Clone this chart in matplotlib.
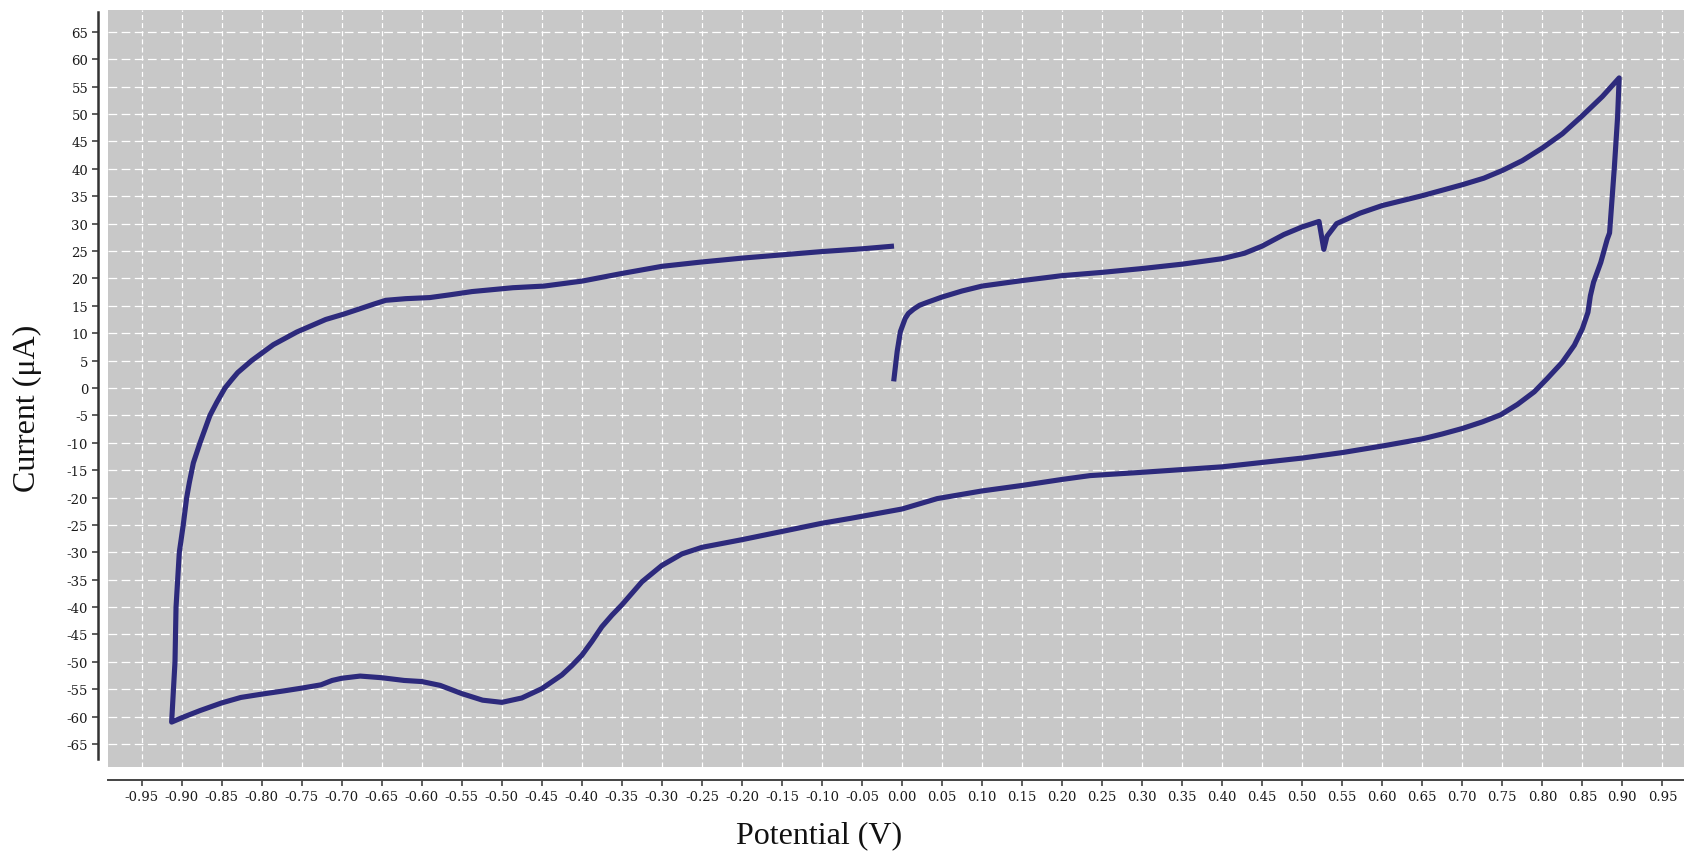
import matplotlib
matplotlib.use("Agg")
import matplotlib.pyplot as plt

# ---- data (potential in V, current in µA) ----
potential = [
    -0.0104, -0.006, -0.002, 0.004, 0.008, 0.0146, 0.022, 0.031, 0.05, 0.075, 0.10, 0.15,
    0.20, 0.25, 0.30, 0.35, 0.40, 0.428, 0.45, 0.477, 0.50, 0.521, 0.527, 0.531, 0.543,
    0.572, 0.60, 0.65, 0.70, 0.727, 0.75, 0.775, 0.80, 0.825, 0.85, 0.875, 0.896,
    0.894, 0.89, 0.887, 0.884, 0.881, 0.873, 0.864, 0.86, 0.857, 0.85, 0.84, 0.825,
    0.806, 0.79, 0.769, 0.748, 0.725, 0.70, 0.675, 0.65, 0.60, 0.55, 0.50, 0.45, 0.40,
    0.35, 0.30, 0.235, 0.20, 0.15, 0.10, 0.044, 0.00, -0.064, -0.10, -0.15, -0.20,
    -0.25, -0.275, -0.30, -0.325, -0.35, -0.3625, -0.375, -0.3875, -0.40, -0.4125,
    -0.425, -0.45, -0.475, -0.50, -0.524, -0.55, -0.577, -0.60, -0.622, -0.65, -0.677,
    -0.70, -0.712, -0.726, -0.75, -0.772, -0.80, -0.826, -0.85, -0.877, -0.898, -0.9125,
    -0.9083, -0.907, -0.9029, -0.898, -0.8937, -0.8904, -0.8854, -0.877, -0.8646,
    -0.856, -0.8458, -0.8375, -0.83, -0.8125, -0.7854, -0.7563, -0.72, -0.697, -0.66,
    -0.645, -0.62, -0.59, -0.565, -0.537, -0.486, -0.447, -0.40, -0.35, -0.30, -0.25,
    -0.20, -0.15, -0.10, -0.05, -0.01,
]
current = [
    1.2, 6.7, 10.3, 12.7, 13.6, 14.4, 15.1, 15.6, 16.6, 17.7, 18.6, 19.6,
    20.5, 21.1, 21.8, 22.6, 23.6, 24.6, 25.9, 28.0, 29.4, 30.4, 25.3, 27.7, 30.0,
    31.9, 33.3, 35.1, 37.1, 38.3, 39.7, 41.5, 43.8, 46.4, 49.7, 53.2, 56.6,
    49.4, 40.3, 34.4, 28.3, 27.1, 22.9, 19.3, 16.8, 13.8, 10.8, 7.8, 4.7,
    1.7, -0.7, -3.0, -4.9, -6.2, -7.4, -8.4, -9.3, -10.6, -11.8, -12.8, -13.6, -14.4,
    -14.9, -15.4, -16.0, -16.7, -17.8, -18.8, -20.2, -22.1, -23.8, -24.7, -26.2, -27.7,
    -29.1, -30.3, -32.4, -35.4, -39.6, -41.5, -43.6, -46.3, -48.8, -50.7,
    -52.4, -54.9, -56.6, -57.4, -57.0, -55.8, -54.3, -53.6, -53.4, -52.9, -52.6,
    -53.0, -53.4, -54.2, -54.8, -55.3, -55.9, -56.5, -57.5, -58.9, -60.1, -61.0,
    -50.0, -40.0, -30.0, -25.0, -20.0, -17.3, -13.7, -10.0, -5.0,
    -2.6, 0.0, 1.5, 2.8, 5.0, 7.9, 10.2, 12.5, 13.5, 15.3,
    16.0, 16.3, 16.5, 17.0, 17.6, 18.3, 18.6, 19.5, 20.9, 22.2, 23.0,
    23.7, 24.3, 24.9, 25.4, 25.9,
]

x_ticks = [round(-0.95 + 0.05 * i, 2) for i in range(39)]
x_tick_labels = [f"{v:.2f}" for v in x_ticks]
y_ticks = list(range(-65, 70, 5))
y_tick_labels = [str(v) for v in y_ticks]

x_label = "Potential (V)"
y_label = "Current (μA)"

# ---- figure ----
W, H = 1684, 853
fig = plt.figure(figsize=(W / 100, H / 100), dpi=100)
ax = fig.add_axes([108 / W, 1 - 768 / H, (W - 108) / W, (768 - 11) / H])
ax.set_facecolor("#c8c8c8")

ax.plot(potential, current, color="#2d2a7c", lw=3.7, solid_joinstyle="round",
        solid_capstyle="butt", zorder=3)

ax.set_xlim(-0.992, 0.977)
ax.set_ylim(-69.2, 69.0)

ax.set_xticks(x_ticks)
ax.set_xticklabels(x_tick_labels)
ax.set_yticks(y_ticks)
ax.set_yticklabels(y_tick_labels)

ax.xaxis.grid(True, color="white", lw=0.9, linestyle=(0, (4, 2.5)), zorder=1)
ax.yaxis.grid(True, color="white", lw=0.9, linestyle=(0, (7, 3.5)), zorder=1)
ax.set_axisbelow(True)

for s in ("top", "right"):
    ax.spines[s].set_visible(False)
ax.spines["left"].set_position(("outward", 7))
ax.spines["bottom"].set_position(("outward", 9))
ax.spines["left"].set_linewidth(1.8)
ax.spines["left"].set_color("#333333")
ax.spines["bottom"].set_linewidth(1.4)
ax.spines["bottom"].set_color("#444444")
ax.spines["left"].set_bounds(-67.7, 68.6)

ax.tick_params(axis="both", direction="out", length=4.3, width=1.1, colors="#333333",
               labelcolor="#1a1a1a")
ax.tick_params(axis="x", pad=3.5)
ax.tick_params(axis="y", pad=3.0)
for lab in ax.get_xticklabels() + ax.get_yticklabels():
    lab.set_fontfamily("DejaVu Serif")
    lab.set_fontsize(9.5)

fig.text(819 / W, 1 - 836 / H, x_label, ha="center", va="center",
         fontsize=23, family="Liberation Serif", color="#111111")
fig.text(27 / W, 1 - 408 / H, y_label, ha="center", va="center", rotation=90,
         fontsize=23, family="Liberation Serif", color="#111111")

fig.savefig("out.png", dpi=100, facecolor="white")
